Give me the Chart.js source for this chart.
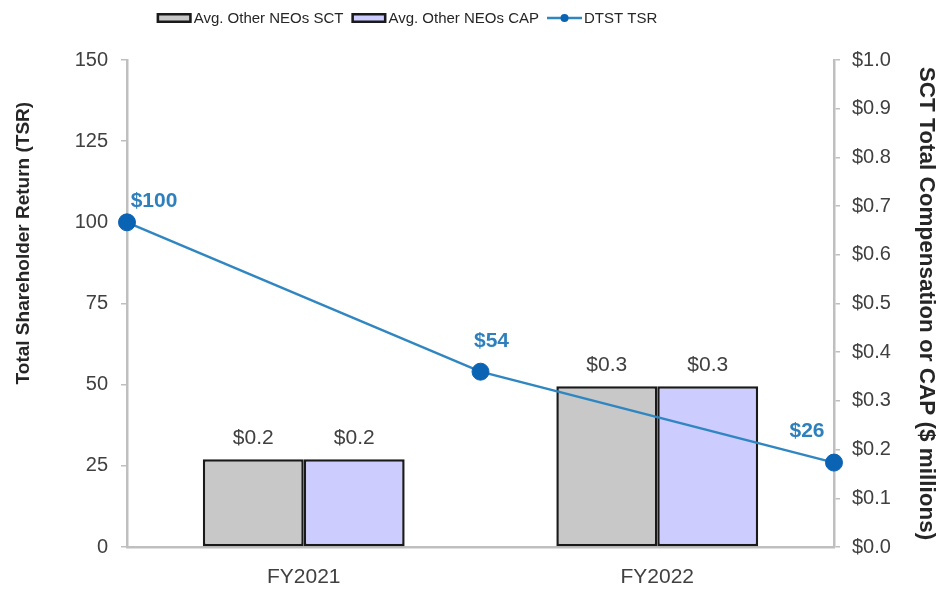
<!DOCTYPE html>
<html>
<head>
<meta charset="utf-8">
<script src="https://cdn.jsdelivr.net/npm/chart.js@4/dist/chart.umd.min.js"></script>
<style>
  html, body { margin: 0; padding: 0; background: #ffffff; }
  #wrap { width: 940px; height: 590px; }
</style>
</head>
<body>
<div id="wrap"><canvas id="chart" width="940" height="590"></canvas></div>
<script>
// Fiscal years for the compensation bars ($ millions)
const fiscalYears = ['FY2021', 'FY2022'];
const avgOtherNeosSct = [0.18, 0.33];
const avgOtherNeosCap = [0.18, 0.33];

// DTST cumulative TSR at each fiscal-year boundary (base, end FY2021, end FY2022)
const dtstTsr = [100, 54, 26];

// Axis ranges and steps
const tsrAxisTicks = { min: 0, max: 150, step: 25 };
const compAxisTicks = { min: 0, max: 1.0, step: 0.1 };

const tsrAxisTitle = 'Total Shareholder Return (TSR)';
const compAxisTitle = 'SCT Total Compensation or CAP ($ millions)';

const legendItems = [
  { label: 'Avg. Other NEOs SCT', kind: 'box', fill: '#c8c8c8' },
  { label: 'Avg. Other NEOs CAP', kind: 'box', fill: '#ccccff' },
  { label: 'DTST TSR', kind: 'line', fill: '#2f86c1' }
];

const FONT = "'Liberation Sans', Arial, sans-serif";
const AXIS_GREY = '#bfbfbf';
const TEXT_GREY = '#404040';
const TSR_BLUE = '#2e80bd';

const money1 = v => '$' + Number(v).toFixed(1);

// Bars sit at the centre of each fiscal year; TSR points sit on the year boundaries
const barPoints = arr => arr.map((v, i) => ({ x: i, y: v }));
const tsrData = dtstTsr.map((v, i) => ({ x: i - 0.5, y: v }));

// Value labels above bars and TSR points
const valueLabels = {
  id: 'valueLabels',
  afterDatasetsDraw(chart) {
    const ctx = chart.ctx;
    ctx.save();
    ctx.textAlign = 'center';
    ctx.textBaseline = 'middle';
    chart.data.datasets.forEach((ds, i) => {
      const meta = chart.getDatasetMeta(i);
      meta.data.forEach((el, j) => {
        const v = ds.data[j].y;
        if (ds.type === 'line') {
          const offs = [[27, -21], [11, -30], [-27, -31]][j];
          ctx.font = 'bold 21px ' + FONT;
          ctx.fillStyle = TSR_BLUE;
          ctx.fillText('$' + v, el.x + offs[0], el.y + offs[1]);
        } else {
          ctx.font = '21px ' + FONT;
          ctx.fillStyle = TEXT_GREY;
          ctx.fillText(money1(v), el.x, el.y - 21);
        }
      });
    });
    ctx.restore();
  }
};

// Left axis title, set slightly above the axis midpoint
const tsrTitle = {
  id: 'tsrTitle',
  afterDraw(chart) {
    const s = chart.scales.y;
    const ctx = chart.ctx;
    ctx.save();
    ctx.translate(s.left + 24, s.top + (s.bottom - s.top) * 0.376);
    ctx.rotate(-Math.PI / 2);
    ctx.font = 'bold 19px ' + FONT;
    ctx.fillStyle = '#262626';
    ctx.textAlign = 'center';
    ctx.textBaseline = 'middle';
    ctx.fillText(tsrAxisTitle, 0, 0);
    ctx.restore();
  }
};

// Legend row across the top
const topLegend = {
  id: 'topLegend',
  afterDraw(chart) {
    const ctx = chart.ctx;
    ctx.save();
    ctx.font = '15px ' + FONT;
    ctx.textBaseline = 'middle';
    const y = 18, gap = 2, between = 8, iconW = 35;
    const widths = legendItems.map(it => iconW + gap + ctx.measureText(it.label).width);
    const total = widths.reduce((a, b) => a + b, 0) + between * (legendItems.length - 1);
    let x = 407 - total / 2;
    legendItems.forEach((it, k) => {
      if (it.kind === 'box') {
        ctx.fillStyle = it.fill;
        ctx.fillRect(x, y - 5, iconW, 10);
        ctx.lineWidth = 2.5;
        ctx.strokeStyle = '#1a1a1a';
        ctx.strokeRect(x + 1.25, y - 3.75, iconW - 2.5, 7.5);
      } else {
        ctx.strokeStyle = it.fill;
        ctx.lineWidth = 2.5;
        ctx.beginPath();
        ctx.moveTo(x, y);
        ctx.lineTo(x + iconW, y);
        ctx.stroke();
        ctx.fillStyle = '#0b63b3';
        ctx.beginPath();
        ctx.arc(x + iconW / 2, y, 4, 0, Math.PI * 2);
        ctx.fill();
      }
      ctx.fillStyle = '#262626';
      ctx.textAlign = 'left';
      ctx.fillText(it.label, x + iconW + gap, y + 1);
      x += widths[k] + between;
    });
    ctx.restore();
  }
};

new Chart(document.getElementById('chart'), {
  type: 'bar',
  data: {
    datasets: [
      {
        label: 'Avg. Other NEOs SCT',
        data: barPoints(avgOtherNeosSct),
        yAxisID: 'y2',
        backgroundColor: '#c8c8c8',
        borderColor: '#1a1a1a',
        borderWidth: 2.5,
        borderSkipped: false,
        barPercentage: 1.0,
        categoryPercentage: 0.571,
        order: 2
      },
      {
        label: 'Avg. Other NEOs CAP',
        data: barPoints(avgOtherNeosCap),
        yAxisID: 'y2',
        backgroundColor: '#ccccff',
        borderColor: '#1a1a1a',
        borderWidth: 2.5,
        borderSkipped: false,
        barPercentage: 1.0,
        categoryPercentage: 0.571,
        order: 2
      },
      {
        type: 'line',
        label: 'DTST TSR',
        data: tsrData,
        yAxisID: 'y',
        borderColor: '#2f86c1',
        borderWidth: 2.5,
        pointRadius: 8.5,
        pointBackgroundColor: '#0b63b3',
        pointBorderColor: '#0b63b3',
        pointBorderWidth: 1,
        tension: 0,
        clip: false,
        order: 0
      }
    ]
  },
  options: {
    responsive: false,
    devicePixelRatio: 1,
    animation: false,
    layout: { padding: { top: 60, left: 0, right: 0, bottom: 0 } },
    plugins: {
      legend: { display: false },
      tooltip: { enabled: false }
    },
    scales: {
      x: {
        type: 'linear',
        offset: false,
        min: -0.5,
        max: fiscalYears.length - 0.5,
        afterBuildTicks: s => { s.ticks = fiscalYears.map((_, i) => ({ value: i })); },
        grid: { display: false },
        border: { display: true, color: AXIS_GREY, width: 2.5 },
        ticks: {
          color: TEXT_GREY,
          font: { family: FONT, size: 21 },
          padding: 10,
          maxRotation: 0,
          autoSkip: false,
          callback: v => fiscalYears[v] ?? ''
        },
        afterFit: s => { s.height = 43; }
      },
      y: {
        position: 'left',
        min: tsrAxisTicks.min,
        max: tsrAxisTicks.max,
        ticks: { stepSize: tsrAxisTicks.step, color: TEXT_GREY, font: { family: FONT, size: 20 }, padding: 13 },
        grid: { display: true, drawOnChartArea: false, tickLength: 6, color: AXIS_GREY, lineWidth: 1.5 },
        border: { color: AXIS_GREY, width: 2.5 },
        afterFit: s => { s.width = 127; }
      },
      y2: {
        position: 'right',
        min: compAxisTicks.min,
        max: compAxisTicks.max,
        ticks: { stepSize: compAxisTicks.step, color: TEXT_GREY, font: { family: FONT, size: 20 }, padding: 12, callback: v => money1(v) },
        grid: { display: true, drawOnChartArea: false, tickLength: 6, color: AXIS_GREY, lineWidth: 1.5 },
        border: { color: AXIS_GREY, width: 2.5 },
        title: {
          display: true,
          text: compAxisTitle,
          color: '#262626',
          font: { family: FONT, size: 22.5, weight: 'bold' },
          padding: { top: 0, bottom: 0 }
        },
        afterFit: s => { s.width = 106; }
      }
    }
  },
  plugins: [valueLabels, tsrTitle, topLegend]
});
</script>
</body>
</html>
